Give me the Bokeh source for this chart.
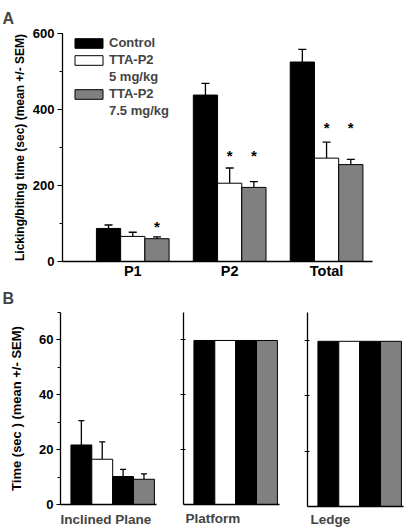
from bokeh.plotting import figure
from bokeh.layouts import column, row
from bokeh.models import (Range1d, FixedTicker, SingleIntervalTicker, Whisker, TeeHead,
                          ColumnDataSource, Legend, LegendItem, Title)
from bokeh.core.properties import value
from bokeh.embed import file_html
from bokeh.resources import INLINE

FONT = "Liberation Sans"

# ---------------- Panel A data ----------------
groups = ["P1", "P2", "Total"]
series_names = ["Control", "TTA-P2", "TTA-P2"]
series_doses = [None, "5 mg/kg", "7.5 mg/kg"]
series_colors = ["black", "white", "#808080"]
control = [87, 438, 525]
control_sem = [9, 31, 33]
tta5 = [66, 206, 272]
tta5_sem = [11, 40, 42]
tta75 = [60, 195, 255]
tta75_sem = [5, 15, 14]
# significance markers: group index, series index, height
star_group = [0, 1, 1, 2, 2]
star_series = [2, 1, 2, 1, 2]
star_y = [101, 287, 287, 360, 360]

# ---------------- Panel B data ----------------
tests = ["Inclined Plane", "Platform", "Ledge"]
b_colors = ["black", "white", "black", "#808080"]
inclined = [21.7, 16.5, 10.2, 9.2]
inclined_sem = [8.9, 6.3, 2.6, 2.0]
platform = [59.8, 59.8, 59.8, 59.8]
ledge = [59.6, 59.6, 59.6, 59.6]
b_yticks = [0, 20, 40, 60]


def style_axis(ax, size="13px"):
    ax.axis_line_width = 1.3
    ax.axis_line_color = "black"
    ax.major_tick_line_color = "black"
    ax.minor_tick_line_color = "black"
    ax.major_tick_line_width = 1.2
    ax.minor_tick_line_width = 1.2
    ax.major_label_text_font = FONT
    ax.major_label_text_font_style = "bold"
    ax.major_label_text_font_size = size
    ax.major_label_text_color = "black"
    ax.axis_label_text_font = FONT
    ax.axis_label_text_font_style = "bold"
    ax.axis_label_text_color = "black"


# ---------------- Panel A ----------------
offsets = [-0.25, 0.0, 0.25]
bar_w = 0.25
pA = figure(frame_width=310, frame_height=228,
            min_border_left=62, min_border_right=42, min_border_top=33, min_border_bottom=20,
            x_range=Range1d(0.275, 3.474), y_range=Range1d(0, 600),
            output_backend="svg", toolbar_location=None, tools="")
pA.grid.visible = False
pA.outline_line_color = None

renderers = []
for vals, sems, color, off in zip([control, tta5, tta75],
                                  [control_sem, tta5_sem, tta75_sem],
                                  series_colors, offsets):
    xs = [i + 1 + off for i in range(len(groups))]
    src = ColumnDataSource(dict(x=xs, top=vals, upper=[v + s for v, s in zip(vals, sems)]))
    r = pA.vbar(x="x", top="top", bottom=0, width=bar_w, source=src,
                fill_color=color, line_color="black", line_width=1)
    renderers.append(r)
    pA.add_layout(Whisker(source=src, base="x", lower="top", upper="upper",
                          line_color="black", line_width=1.3, lower_head=None,
                          upper_head=TeeHead(size=8, line_color="black", line_width=1.3)))

star_x = [g + 1 + offsets[s] for g, s in zip(star_group, star_series)]
pA.text(x=star_x, y=star_y, text=["*"] * len(star_x), text_align="center",
        text_baseline="middle", y_offset=3, text_font=value(FONT), text_font_style="bold",
        text_font_size="15px", text_color="black")

# legend: one row per text line; the dose lines use an invisible (empty) glyph
blank = pA.vbar(x=[], top=[], width=bar_w, fill_alpha=0, line_alpha=0)
items = []
for name, dose, r in zip(series_names, series_doses, renderers):
    items.append(LegendItem(label=name, renderers=[r]))
    if dose:
        items.append(LegendItem(label=dose, renderers=[blank]))
legend = Legend(items=items, location=(9, 142), margin=0, padding=0, spacing=0,
                glyph_width=35, glyph_height=12, label_height=17, label_standoff=3,
                label_text_font=FONT, label_text_font_style="bold", label_text_font_size="13px",
                label_text_line_height=1.0,
                border_line_color=None, background_fill_alpha=0)
pA.add_layout(legend)

pA.yaxis.ticker = SingleIntervalTicker(interval=200, num_minor_ticks=2)
style_axis(pA.yaxis[0])
pA.yaxis.major_tick_out = 5
pA.yaxis.major_tick_in = 0
pA.yaxis.minor_tick_out = 3
pA.yaxis.minor_tick_in = 0
pA.yaxis.major_label_standoff = 3
pA.yaxis.axis_label = "Licking/biting time (sec) (mean +/- SEM)"
pA.yaxis.axis_label_text_font_size = "12px"
pA.yaxis.axis_label_standoff = 3

pA.xaxis.ticker = FixedTicker(ticks=[i + 1 for i in range(len(groups))])
pA.xaxis.major_label_overrides = {i + 1: g for i, g in enumerate(groups)}
style_axis(pA.xaxis[0], "14.5px")
pA.xaxis.major_tick_out = 0
pA.xaxis.major_tick_in = 0
pA.xaxis.major_label_standoff = 1

pA.add_layout(Title(text="A", align="left", offset=-60, standoff=14,
                    text_font=FONT, text_font_style="bold", text_font_size="16px"), "above")


# ---------------- Panel B ----------------
def make_b(name, vals, sems, left, right, top, fh, label_offset, label_standoff, first):
    p = figure(frame_width=96, frame_height=fh,
               min_border_left=left, min_border_right=right, min_border_top=top,
               min_border_bottom=246 - top - fh,
               x_range=Range1d(0, 4.6), y_range=Range1d(0, 70),
               output_backend="svg", toolbar_location=None, tools="")
    p.grid.visible = False
    p.outline_line_color = None
    xs = [i + 1 for i in range(len(vals))]
    src = ColumnDataSource(dict(x=xs, top=vals, color=b_colors))
    p.vbar(x="x", top="top", bottom=0, width=1, source=src,
           fill_color="color", line_color="black", line_width=1)
    if sems is not None:
        esrc = ColumnDataSource(dict(x=xs, top=vals, upper=[v + s for v, s in zip(vals, sems)]))
        p.add_layout(Whisker(source=esrc, base="x", lower="top", upper="upper",
                             line_color="black", line_width=1.3, lower_head=None,
                             upper_head=TeeHead(size=6, line_color="black", line_width=1.3)))
    style_axis(p.yaxis[0])
    style_axis(p.xaxis[0])
    p.xaxis.ticker = FixedTicker(ticks=[])
    p.xaxis.major_label_standoff = 0
    if first:
        p.yaxis.ticker = SingleIntervalTicker(interval=20, num_minor_ticks=2)
        p.yaxis.major_tick_out = 4
        p.yaxis.major_tick_in = 0
        p.yaxis.minor_tick_out = 3
        p.yaxis.minor_tick_in = 0
        p.yaxis.major_label_standoff = 3
        p.yaxis.axis_label = "Time (sec ) (mean +/- SEM)"
        p.yaxis.axis_label_text_font_size = "13px"
        p.yaxis.axis_label_standoff = 12
        p.add_layout(Title(text="B", align="left", offset=-58, standoff=11,
                           text_font=FONT, text_font_style="bold", text_font_size="16px"), "above")
    else:
        p.yaxis.ticker = FixedTicker(ticks=b_yticks[1:])
        p.yaxis.major_tick_out = 3
        p.yaxis.major_tick_in = 2
        p.yaxis.major_label_overrides = {t: "" for t in b_yticks[1:]}
        p.yaxis.major_label_standoff = 0
    p.add_layout(Title(text=name, align="left", offset=label_offset, standoff=label_standoff,
                       text_font=FONT, text_font_style="bold", text_font_size="13.5px"), "below")
    return p


pB1 = make_b(tests[0], inclined, inclined_sem, 60, 14, 29, 192, 0, 10, True)
pB2 = make_b(tests[1], platform, None, 13, 16, 31, 192, 2, 8, False)
pB3 = make_b(tests[2], ledge, None, 12, 11, 31, 194, 3, 7, False)

layout = column(pA, row(pB1, pB2, pB3))

open("out.html", "w").write(file_html(layout, INLINE))
